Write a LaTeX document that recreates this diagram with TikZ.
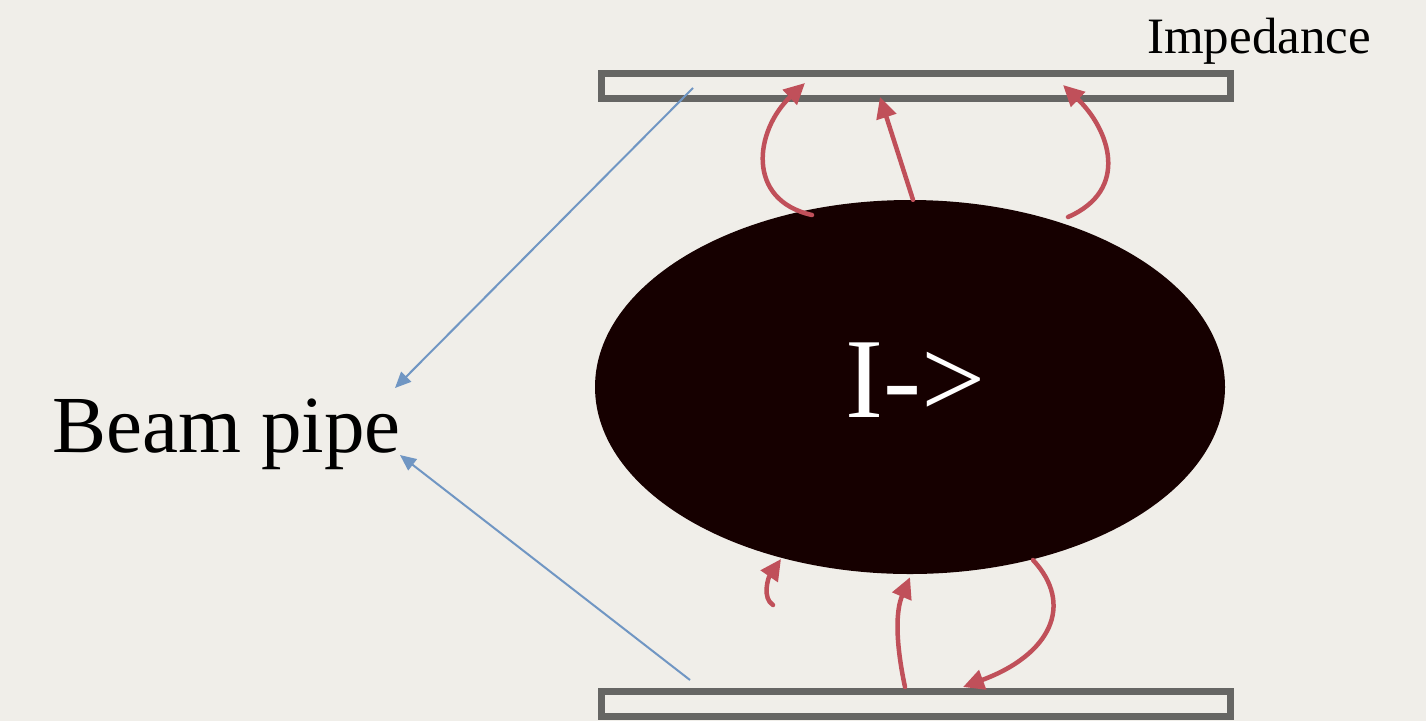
\documentclass[tikz,border=0pt]{standalone}
\usepackage{fontspec}
\setmainfont{Liberation Serif}
\usetikzlibrary{arrows.meta,shapes.geometric}
\definecolor{paper}{RGB}{240,238,233}
\definecolor{blobcol}{RGB}{22,0,0}
\definecolor{pipegray}{RGB}{102,102,100}
\definecolor{fieldred}{RGB}{192,80,90}
\definecolor{labelblue}{RGB}{112,150,195}
\tikzset{
  pipe/.style={draw=pipegray, line width=7pt, fill=paper, rectangle, inner sep=0pt, minimum width=629pt, minimum height=25pt},
  field/.style={draw=fieldred, line width=4.5pt, line cap=round, -{Triangle[length=21pt,width=20pt]}},
  pointer/.style={draw=labelblue, line width=2pt, -{Triangle[length=16pt,width=14pt]}},
}
\begin{document}
\begin{tikzpicture}[x=1pt,y=-1pt]
  % page
  \fill[paper] (0,0) rectangle (1426,721);
  \useasboundingbox (0,0) rectangle (1426,721);

  % the two walls of the pipe
  \node[pipe] (toppipe) at (915.5,86) {};
  \node[pipe] (botpipe) at (915.5,704) {};

  % the bunch
  \node[ellipse, fill=blobcol, minimum width=630pt, minimum height=374pt, inner sep=0pt] (blob) at (910,387) {};
  \node[text=white, font=\fontsize{114}{114}\selectfont, anchor=base] (current) at (916,417) {I->};

  % labels
  \node[font=\fontsize{81}{81}\selectfont, anchor=base west, inner sep=0pt] (beampipe) at (52,452) {Beam pipe};
  \node[font=\fontsize{51}{51}\selectfont, anchor=base west, inner sep=0pt] (impedance) at (1147,53) {Impedance};

  % end points of the field lines
  \coordinate (t1s) at (812,215);
  \coordinate (t1e) at (805,83);
  \coordinate (t2e) at (880,97);
  \coordinate (t3s) at (1068,217);
  \coordinate (t3e) at (1063,85);
  \coordinate (b1s) at (773,605);
  \coordinate (b1e) at (781,559);
  \coordinate (b2s) at (905,687);
  \coordinate (b3s) at (1033,560);
  \coordinate (b3e) at (963,687);

  % field lines between bunch and walls
  \draw[field] (t1s) .. controls (745,200) and (755,130) .. (t1e);
  \draw[field] ([xshift=3pt]blob.north) -- (t2e);
  \draw[field] (t3s) .. controls (1130,190) and (1110,130) .. (t3e);
  \draw[field] (b1s) .. controls (762,598) and (768,578) .. (b1e);
  \draw[field] (b2s) .. controls (895,640) and (896,610) .. ([yshift=-3pt]blob.south);
  \draw[field] (b3s) .. controls (1075,605) and (1050,655) .. (b3e);

  % pointers from the walls to the label
  \coordinate (ptop) at (693,88);
  \coordinate (pbot) at (690,680);
  \coordinate (lbltop) at (395,388);
  \coordinate (lblbot) at (400,455);
  \draw[pointer] (ptop) -- (lbltop);
  \draw[pointer] (pbot) -- (lblbot);
\end{tikzpicture}
\end{document}
